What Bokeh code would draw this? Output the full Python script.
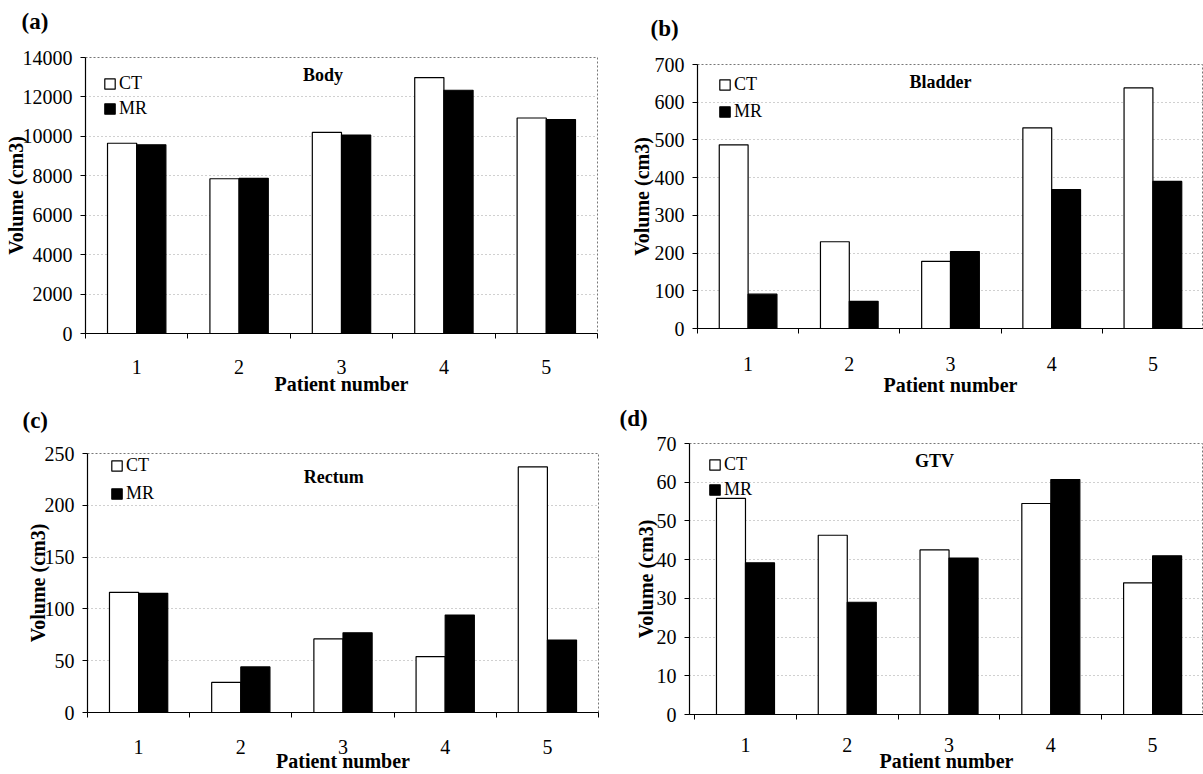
from bokeh.plotting import figure
from bokeh.models import (FixedTicker, Range1d, Legend, LegendItem, ColumnDataSource,
                          Label, Title)
from bokeh.layouts import column, row
from bokeh.transform import dodge
from bokeh.embed import file_html
from bokeh.resources import INLINE

patients = [1, 2, 3, 4, 5]

body_ct = [9650, 7850, 10200, 12980, 10930]
body_mr = [9570, 7870, 10070, 12340, 10850]
bladder_ct = [487, 230, 178, 532, 638]
bladder_mr = [91, 72, 204, 368, 390]
rectum_ct = [116, 29, 71, 54, 237]
rectum_mr = [115, 44, 77, 94, 70]
gtv_ct = [55.8, 46.3, 42.5, 54.5, 34.0]
gtv_mr = [39.2, 29.0, 40.4, 60.7, 41.0]

panel_tags = ["(a)", "(b)", "(c)", "(d)"]
panel_names = ["Body", "Bladder", "Rectum", "GTV"]
y_max = [14000, 700, 250, 70]
y_step = [2000, 100, 50, 10]
series_names = ["CT", "MR"]
x_label = "Patient number"
y_label = "Volume (cm3)"

SERIF = "Liberation Serif"

# layout per panel (pixels)
layouts = [
    dict(w=600, h=398, bl=85, br=3, bt=57, bb=65, xs=0.5, ylab=-7, xstd=21, xlab=-4,
         name_xy=(2.82, 0.938), leg=(18, 26, 0), tag=(-64, 16)),
    dict(w=603, h=398, bl=97, br=0, bt=64, bb=70, xs=0.5, ylab=-1, xstd=23, xlab=0,
         name_xy=(2.9, 0.932), leg=(21, 20, 2), tag=(-47, 16)),
    dict(w=600, h=376, bl=87, br=2, bt=55, bb=61, xs=0.5, ylab=-7, xstd=22, xlab=-7,
         name_xy=(2.91, 0.908), leg=(23, 13, 3), tag=(-65, 13)),
    dict(w=603, h=376, bl=89, br=0, bt=45, bb=59, xs=0.45, ylab=-3, xstd=18, xlab=-5,
         name_xy=(2.856, 0.937), leg=(19, 22, 0), tag=(-70, 5)),
]

data = [(body_ct, body_mr), (bladder_ct, bladder_mr),
        (rectum_ct, rectum_mr), (gtv_ct, gtv_mr)]

BAR_W = 0.285


def make_panel(i):
    L = layouts[i]
    ct, mr = data[i]
    src = ColumnDataSource(dict(x=patients, ct=ct, mr=mr))
    x0, x1 = L["xs"], 5.5
    p = figure(width=L["w"], height=L["h"], output_backend="svg",
               toolbar_location=None, x_range=Range1d(x0, x1),
               y_range=Range1d(0, y_max[i]),
               min_border_left=L["bl"], min_border_right=L["br"],
               min_border_top=L["bt"], min_border_bottom=L["bb"])
    p.background_fill_color = "white"
    p.border_fill_color = "white"
    p.outline_line_color = "#777777"
    p.outline_line_dash = "2 2"
    p.outline_line_width = 1

    r_ct = p.vbar(x=dodge("x", -BAR_W / 2), top="ct", width=BAR_W, source=src,
                  fill_color="white", line_color="black", line_width=1.2)
    r_mr = p.vbar(x=dodge("x", BAR_W / 2), top="mr", width=BAR_W, source=src,
                  fill_color="black", line_color="black", line_width=1.2)

    # x axis
    xa = p.xaxis[0]
    xa.ticker = FixedTicker(ticks=patients,
                            minor_ticks=[v - 0.5 for v in patients] + [patients[-1] + 0.5])
    xa.major_tick_out = 0
    xa.major_tick_in = 0
    xa.minor_tick_out = 5
    xa.minor_tick_in = 0
    xa.minor_tick_line_color = "black"
    xa.axis_line_color = "black"
    xa.axis_line_width = 1.2
    xa.major_label_standoff = L["xstd"]
    xa.major_label_text_font = SERIF
    xa.major_label_text_font_size = "20px"
    xa.major_label_text_color = "black"
    xa.axis_label = x_label
    xa.axis_label_text_font = SERIF
    xa.axis_label_text_font_size = "20px"
    xa.axis_label_text_font_style = "bold"
    xa.axis_label_text_color = "black"
    xa.axis_label_standoff = L["xlab"]

    # y axis
    ya = p.yaxis[0]
    ya.ticker = FixedTicker(ticks=list(range(0, y_max[i] + 1, y_step[i])))
    ya.major_tick_out = 5
    ya.major_tick_in = 0
    ya.minor_tick_out = 0
    ya.minor_tick_in = 0
    ya.major_tick_line_color = "black"
    ya.axis_line_color = "black"
    ya.axis_line_width = 1.2
    ya.major_label_standoff = 8
    ya.major_label_text_font = SERIF
    ya.major_label_text_font_size = "20px"
    ya.major_label_text_color = "black"
    ya.axis_label = y_label
    ya.axis_label_text_font = SERIF
    ya.axis_label_text_font_size = "20px"
    ya.axis_label_text_font_style = "bold"
    ya.axis_label_text_color = "black"
    ya.axis_label_standoff = L["ylab"]

    p.xgrid.grid_line_color = None
    p.ygrid.grid_line_color = "#a0a0a0"
    p.ygrid.grid_line_dash = "1 3"
    p.ygrid.grid_line_width = 1

    frame_h = L["h"] - L["bt"] - L["bb"]

    # panel tag as a title in the top border, with a spacer title between it and the frame
    off, spacer = L["tag"]
    if spacer > 0:
        p.add_layout(Title(text=" ", text_font_size="1px", standoff=spacer,
                           text_color="white"), "above")
    p.add_layout(Title(text=panel_tags[i], align="left", offset=off, standoff=10,
                       text_font=SERIF, text_font_size="23px",
                       text_font_style="bold", text_color="black"), "above")

    # organ name inside the plot
    nx, ny = L["name_xy"]
    p.add_layout(Label(x=nx, y=ny * y_max[i], text=panel_names[i],
                       text_align="center", text_baseline="middle",
                       text_font=SERIF, text_font_size="18px",
                       text_font_style="bold", text_color="black"))

    # legend
    dx, dy, sp = L["leg"]
    item_h = 25
    leg_h = 2 * item_h + sp
    top_off = dy - item_h / 2
    leg = Legend(items=[LegendItem(label=series_names[0], renderers=[r_ct]),
                        LegendItem(label=series_names[1], renderers=[r_mr])],
                 location=(dx, frame_h - top_off - leg_h),
                 orientation="vertical", padding=0, margin=0, spacing=sp,
                 glyph_width=13, glyph_height=13, label_height=item_h,
                 label_standoff=3, label_text_font=SERIF,
                 label_text_font_size="18px", label_text_color="black",
                 border_line_alpha=0, background_fill_alpha=0)
    p.add_layout(leg, "center")
    return p


panels = [make_panel(i) for i in range(4)]
layout = column(row(column(panels[0]), column(panels[1])),
                row(column(panels[2]), column(panels[3])))

open("out.html", "w").write(file_html(layout, INLINE))
